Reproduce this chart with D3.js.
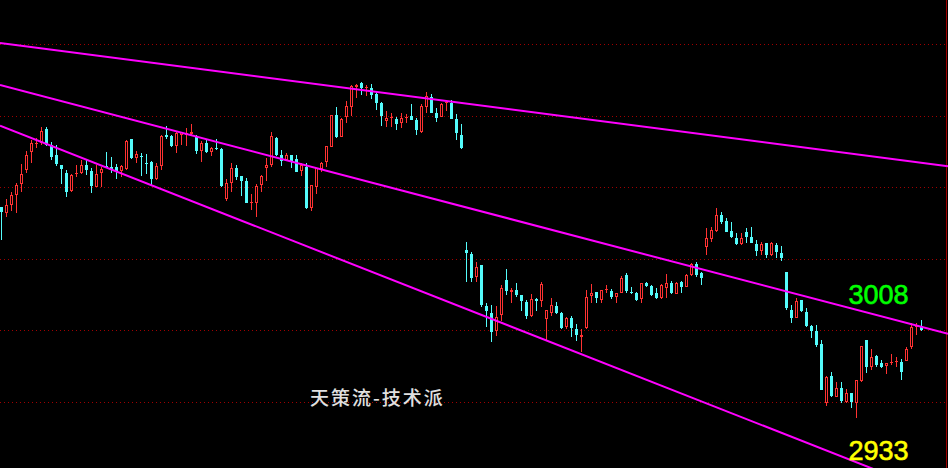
<!DOCTYPE html>
<html><head><meta charset="utf-8">
<script src="https://cdn.jsdelivr.net/npm/d3@7"></script>
<style>html,body{margin:0;padding:0;background:#000;overflow:hidden}</style>
</head><body>
<svg id="c" width="948" height="468"></svg>
<script>
// Candle OHLC values (index = trading day)
const opens = [3067.5,3064.5,3068.5,3073.5,3079,3086,3095,3099,3099.5,3106.5,3098.5,3093.5,3088.5,3084.5,3075.5,3084,3084.5,3088.5,3085.5,3077.5,3084.5,3088,3087.5,3087.5,3085.5,3086.5,3101.5,3092,3093,3089.5,3090,3081.5,3088,3103.5,3103,3098,3103.5,3103.5,3104,3103,3095.5,3099.5,3095,3097,3096.5,3071.5,3079.5,3087,3083,3080.5,3069.5,3069.5,3078.5,3087,3088.5,3102,3093.5,3091,3093.5,3091.5,3085.5,3087.5,3067,3077.5,3086.5,3090,3097.5,3113.5,3102.5,3112.5,3117.5,3127.5,3129.5,3127,3127,3124,3119.5,3110.5,3112,3111.5,3109.5,3112,3113,3111,3105,3117.5,3122.5,3114.5,3112.5,3119.5,3119.5,3111.5,3103.5,3046,3044,3032.5,3038.5,3018,3014.5,3005.5,3013.5,3031,3025,3026,3023.5,3020,3013,3021.5,3020.5,3011.5,3014.5,3018,3014.5,3007.5,3012,3006.5,3002.5,3007,3023,3025,3021,3026,3025.5,3022.5,3024.5,3033.5,3025,3024.5,3021.5,3029.5,3028,3024.5,3022,3027,3029.5,3024,3030,3027.5,3033.5,3039,3034.5,3047.5,3051.5,3055.5,3063.5,3060.5,3055.5,3052,3049,3055,3052.5,3049,3045.5,3049.5,3043.5,3048.5,3044.5,3035,3016,3012,3021,3015,3008,3005.5,2999,2969.5,2983,2972.5,2977,2970,2974.5,2969.5,2980.5,3001,2987.5,2993,2989.5,2988,2989.5,2990,2990,2990.5,2997.5,3007.5,3008];
const highs = [3067.5,3071.5,3075,3079.5,3089,3095.5,3101,3102,3107.5,3107.5,3100,3098.5,3088.5,3086,3084,3088.5,3091,3091,3087,3088.5,3087.5,3095,3092.5,3089,3088.5,3101,3101.5,3095.5,3094.5,3094,3090.5,3089.5,3103.5,3108,3103.5,3105,3105,3107,3109,3103.5,3100.5,3101,3097.5,3101.5,3097,3081.5,3089.5,3088.5,3083,3082,3074,3079,3083.5,3092,3105,3102.5,3096,3094.5,3093.5,3093.5,3089.5,3089.5,3078.5,3087,3090,3098,3113.5,3117.5,3112,3120.5,3128.5,3129,3130,3128.5,3129,3125,3120,3115.5,3114.5,3112.5,3114.5,3114,3119,3112,3119,3125,3124,3117,3119.5,3120,3121,3114,3109,3050,3045,3040,3038.5,3019.5,3018.5,3018,3028.5,3036.5,3027,3029.5,3023.5,3021,3024,3022,3030,3016,3022,3020,3015,3012.5,3013,3009,3006.5,3026,3029,3025,3026,3028.5,3026.5,3024.5,3033,3034.5,3027.5,3025,3029.5,3030,3028.5,3027,3029,3034,3030.5,3030,3030.5,3034,3039.5,3040,3035,3057,3057.5,3067,3065,3062,3060,3054.5,3054.5,3057,3057.5,3051,3050,3049.5,3050,3049.5,3048,3035,3018.5,3022,3021,3017,3008.5,3008.5,3001,2983,2985,2980,2980,2976.5,2974.5,2981,2998,3001,2996.5,2993.5,2991,2989.5,2994,2992.5,2991.5,2997.5,3009.5,3009.5,3011];
const lows = [3051,3062.5,3065.5,3064.5,3075,3084.5,3089.5,3097,3098.5,3098,3091,3088,3079,3072.5,3075,3082.5,3084,3083.5,3074.5,3077.5,3077.5,3087,3084.5,3081.5,3082.5,3086,3091.5,3089.5,3083,3084,3078.5,3081,3086,3101.5,3097.5,3094.5,3098.5,3098,3103,3094,3090,3094.5,3093,3096,3077.5,3070.5,3075,3081,3073,3069.5,3066,3062.5,3075,3080.5,3087.5,3093,3088,3090.5,3087,3085,3083,3066.5,3065.5,3074,3085,3087.5,3097.5,3102,3102.5,3109.5,3113,3122,3123.5,3123,3121.5,3116,3108,3107.5,3107.5,3106,3107,3109.5,3111,3103.5,3104.5,3114.5,3114.5,3110,3112.5,3115.5,3111.5,3101,3096.5,3030,3030,3030,3017.5,3007.5,3000,3003,3010.5,3023.5,3019.5,3022.5,3015.5,3011.5,3012.5,3015.5,3017.5,3001,3013,3014,3006.5,3006.5,3002.5,3000.5,2995,3006.5,3019.5,3019.5,3019.5,3024.5,3021.5,3019.5,3024.5,3024.5,3024,3020.5,3019.5,3027.5,3023,3021.5,3021.5,3022,3024,3024,3024.5,3027.5,3033,3032.5,3028.5,3043.5,3050,3055,3059,3055,3052,3048.5,3048.5,3049.5,3049.5,3043,3043.5,3042,3043,3042,3040.5,3016,3009.5,3012,3015,3007.5,3002,2997.5,2976,2968,2972.5,2972.5,2969.5,2969.5,2967,2962,2980,2984.5,2986,2987.5,2987,2984,2988.5,2987.5,2981,2990.5,2996.5,3003.5,3005.5];
const closes = [3065,3068.5,3073.5,3078.5,3084,3093.5,3099.5,3099.5,3105.5,3098.5,3092.5,3089,3086.5,3075,3083.5,3084.5,3088.5,3086,3078,3084,3086.5,3087.5,3086.5,3085,3088,3100.5,3092,3094,3092.5,3089,3081.5,3088,3103,3102.5,3098,3104.5,3105,3104.5,3105,3095.5,3099.5,3095,3097,3096.5,3078,3079.5,3087,3082.5,3080.5,3069.5,3070,3078,3083,3088.5,3103,3093.5,3090.5,3093.5,3090.5,3085,3088.5,3067,3078.5,3087,3089.5,3098,3113.5,3102.5,3111.5,3118,3128,3128.5,3127,3127.5,3123.5,3119.5,3113,3112,3112.5,3109,3112,3112.5,3111,3106,3118,3123,3114.5,3112,3119,3120,3111.5,3104.5,3097,3044.5,3032,3037.5,3018.5,3015.5,3005,3012.5,3027,3025.5,3026,3023.5,3020.5,3013,3021.5,3020.5,3029,3016,3018.5,3014.5,3007,3012,3007,3003.5,3003.5,3022.5,3024.5,3022,3026,3026.5,3022.5,3024.5,3032,3025.5,3024.5,3021,3029.5,3028,3023.5,3022,3028.5,3029.5,3024.5,3029.5,3027.5,3033.5,3039,3033.5,3032,3052,3056,3063.5,3060,3055,3052.5,3049,3052,3052.5,3049.5,3045.5,3049,3043.5,3049.5,3045,3042,3017,3012,3020.5,3015.5,3008,3005.5,2998.5,2976,2982.5,2973,2977,2970.5,2974.5,2970,2981,2998,2987.5,2992.5,2988.5,2987.5,2989.5,2990,2990.5,2985,2996.5,3007.5,3008,3006];

// dotted horizontal grid levels
const gridValues = [3148.8, 3112.9, 3077.3, 3041.4, 3005.8, 2969.9];

// trend lines: [index, price] anchor pairs
const trendLines = [
  [[0, 3149.4], [189, 3088.0]],
  [[0, 3128.3], [189, 3004.25]],
  [[0, 3107.85], [189, 2922.15]]
];

// annotation labels
const labels = [
  {text: "3008", index: 169.4, price: 3019, color: "#00ff00"},
  {text: "2933", index: 169.4, price: 2941, color: "#ffff00"}
];
const watermark = {text: "天策流-技术派", index: 61.7, price: 2968.5};

const W = 948, H = 468;
const svg = d3.select("#c");
svg.append("rect").attr("width", W).attr("height", H).attr("fill", "#000");

const x = d3.scaleLinear().domain([0, 184]).range([1.5, 921.5]);
const y = d3.scaleLinear().domain([2937, 3171]).range([H, 0]);

// grid
svg.append("g").selectAll("line").data(gridValues).join("line")
  .attr("x1", 0).attr("x2", W)
  .attr("y1", d => Math.round(y(d)) + 0.5).attr("y2", d => Math.round(y(d)) + 0.5)
  .attr("stroke", "#a00000").attr("stroke-width", 1).attr("stroke-dasharray", "1,3");

// right border
svg.append("line").attr("x1", W - 1.5).attr("x2", W - 1.5).attr("y1", 0).attr("y2", H)
  .attr("stroke", "#a00000").attr("stroke-width", 1);

// watermark
svg.append("text").attr("x", x(watermark.index)).attr("y", y(watermark.price))
  .attr("font-family", "'Noto Sans CJK SC', sans-serif").attr("font-size", 19)
  .attr("font-weight", 500).attr("letter-spacing", 2)
  .attr("fill", "#e0e0e0").text(watermark.text);

const data = opens.map((o, i) => ({i, o, h: highs[i], l: lows[i], c: closes[i]}));

const g = svg.append("g");
data.forEach(d => {
  const cx = Math.round(x(d.i) - 0.5) + 0.5;
  const up = d.c >= d.o;
  const top = Math.round(y(Math.max(d.o, d.c)));
  const bot = Math.max(top + 1, Math.round(y(Math.min(d.o, d.c))));
  const hi = Math.round(y(d.h)), lo = Math.round(y(d.l));
  if (up) {
    const col = "#ff3232";
    if (hi < top) g.append("line").attr("x1", cx).attr("x2", cx).attr("y1", hi).attr("y2", top).attr("stroke", col);
    if (lo > bot) g.append("line").attr("x1", cx).attr("x2", cx).attr("y1", bot).attr("y2", lo).attr("stroke", col);
    if (bot - top <= 1) {
      g.append("line").attr("x1", cx - 1.5).attr("x2", cx + 1.5).attr("y1", top + 0.5).attr("y2", top + 0.5).attr("stroke", col);
    } else {
      g.append("rect").attr("x", cx - 1).attr("y", top + 0.5).attr("width", 2).attr("height", bot - top - 1)
        .attr("fill", "#000").attr("stroke", col).attr("stroke-width", 1);
    }
  } else {
    const col = "#54fcfc";
    g.append("line").attr("x1", cx).attr("x2", cx).attr("y1", hi).attr("y2", lo).attr("stroke", col);
    g.append("rect").attr("x", cx - 1.5).attr("y", top).attr("width", 3).attr("height", Math.max(1, bot - top))
      .attr("fill", col);
  }
});

// trend lines, extended across the full width
const line = d3.line().x(p => x(p[0])).y(p => y(p[1]));
trendLines.forEach(t => {
  const [a, b] = t;
  const slope = (b[1] - a[1]) / (b[0] - a[0]);
  const i0 = x.invert(0), i1 = x.invert(W);
  const pts = [[i0, a[1] + slope * (i0 - a[0])], [i1, a[1] + slope * (i1 - a[0])]];
  svg.append("path").attr("d", line(pts)).attr("fill", "none")
    .attr("stroke", "#ff00ff").attr("stroke-width", 2);
});

// labels
svg.append("g").selectAll("text").data(labels).join("text")
  .attr("x", d => x(d.index)).attr("y", d => y(d.price))
  .attr("font-family", "'Liberation Sans', Arial, sans-serif").attr("font-size", 27)
  .attr("fill", d => d.color).attr("stroke", d => d.color).attr("stroke-width", 0.6)
  .text(d => d.text);
</script>
</body></html>
